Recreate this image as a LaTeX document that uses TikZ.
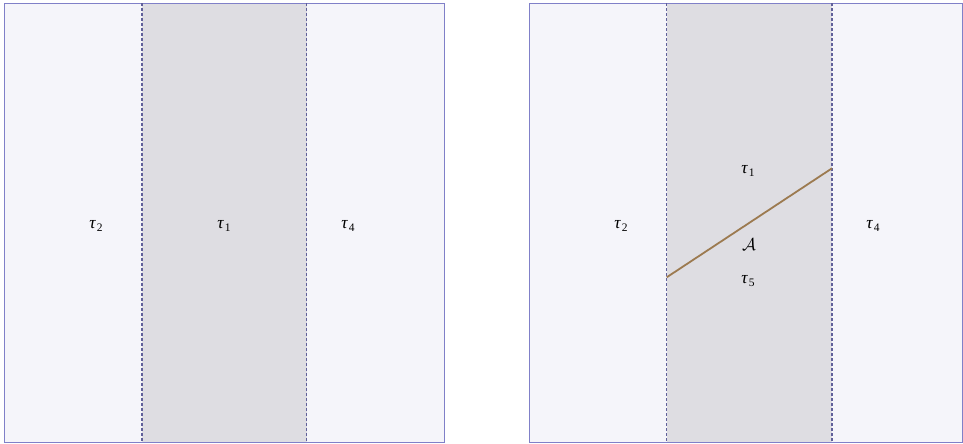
\documentclass[tikz,border=0pt]{standalone}
\usepackage{amsmath}
\usepackage{fontspec}
\setmainfont{Liberation Serif}
\newcommand\taulab[1]{\textit{τ}\kern0.03em\raisebox{-3.5pt}{\fontsize{11.5}{13}\selectfont #1}}
\begin{document}
\begin{tikzpicture}[x=1pt,y=-1pt,
  outer/.style={fill=outfill},
  inner/.style={fill=infill},
  frame/.style={draw=framecol,line width=1.1pt},
  sep/.style={draw=sepcol,dashed,dash pattern=on 3pt off 2pt,line width=1.1pt},
  lab/.style={inner sep=0pt,font=\fontsize{17.5}{20}\selectfont},
  arc/.style={draw=arccol,line width=1.8pt}]
\definecolor{outfill}{HTML}{F5F5FA}
\definecolor{infill}{HTML}{DEDDE2}
\definecolor{framecol}{HTML}{8080C8}
\definecolor{sepcol}{HTML}{60609A}
\definecolor{arccol}{HTML}{9C7A50}
\useasboundingbox (0,0) rectangle (963,444);
% left panel
\fill[outer] (4.3,3.3) rectangle (444.3,442.2);
\fill[inner] (142,3.3) rectangle (306.7,442.2);
\draw[frame] (4.3,3.3) rectangle (444.3,442.2);
\draw[sep] (142,3.3) -- (142,442.2);
\draw[sep] (306.7,3.3) -- (306.7,442.2);
\node[lab] (l2) at (96,226) {\taulab{2}};
\node[lab] (l1) at (224,226) {\taulab{1}};
\node[lab] (l4) at (348,226) {\taulab{4}};
% right panel
\fill[outer] (529.3,3.3) rectangle (962.3,442.2);
\fill[inner] (666.7,3.3) rectangle (832,442.2);
\draw[frame] (529.3,3.3) rectangle (962.3,442.2);
\draw[sep] (666.7,3.3) -- (666.7,442.2);
\draw[sep] (832,3.3) -- (832,442.2);
\coordinate (pa) at (666.7,277.3);
\coordinate (pb) at (832,168.3);
\draw[arc] (pa) -- (pb);
\node[lab] (r2) at (621,226) {\taulab{2}};
\node[lab] (r1) at (748,171) {\taulab{1}};
\node[lab,font=\fontsize{19}{20}\selectfont] (ra) at (749,244.5) {$\mathcal{A}$};
\node[lab] (r5) at (748,281) {\taulab{5}};
\node[lab] (r4) at (873,226) {\taulab{4}};
\end{tikzpicture}
\end{document}
